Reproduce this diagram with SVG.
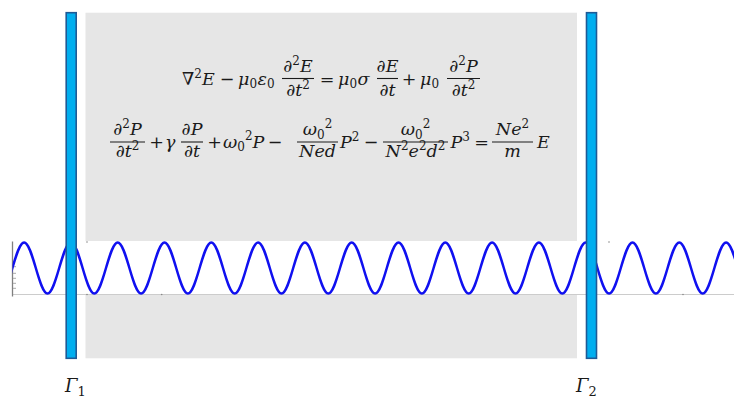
<svg xmlns="http://www.w3.org/2000/svg" width="734" height="399" viewBox="0 0 734 399">
<style>
.m{font-family:"DejaVu Serif","Liberation Serif",serif;font-size:17.5px;font-style:italic;fill:#1a1a1a}
.u{font-style:normal}
.s{font-size:12px;font-style:normal}
.fb{stroke:#1a1a1a;stroke-width:1.1}
.bar{fill:#00AEEF;stroke:#1E5A96;stroke-width:1.6}
.lbl{font-family:"DejaVu Serif","Liberation Serif",serif;font-size:18px;font-style:italic;fill:#1a1a1a}
.tick{stroke:#aaaaaa;stroke-width:1}
</style>
<defs>
<clipPath id="plotclip"><rect x="12.5" y="230" width="722" height="80"/></clipPath>
</defs>
<rect width="734" height="399" fill="#ffffff"/>
<g id="region">
<rect x="85.5" y="12.7" width="491.5" height="345.6" fill="#E6E6E6"/>
</g>
<g id="plot">
<rect x="0" y="241" width="734" height="54" fill="#ffffff"/>
<line x1="12.5" y1="294.5" x2="734" y2="294.5" stroke="#cccccc" stroke-width="1"/>
<line x1="12.5" y1="241.5" x2="12.5" y2="296.5" stroke="#808080" stroke-width="1.3"/>
<line class="tick" x1="13" y1="266.7" x2="16" y2="266.7"/>
<line class="tick" x1="13" y1="273.3" x2="16" y2="273.3"/>
<line class="tick" x1="13" y1="278.3" x2="16" y2="278.3"/>
<line class="tick" x1="13" y1="283.3" x2="16" y2="283.3"/>
<line class="tick" x1="13" y1="288.3" x2="16" y2="288.3"/>
<circle cx="87" cy="242" r="0.8" fill="#888"/>
<circle cx="87" cy="294.5" r="0.8" fill="#888"/>
<circle cx="161.7" cy="294.5" r="0.8" fill="#888"/>
<circle cx="609" cy="242" r="0.8" fill="#888"/>
<circle cx="683" cy="294.5" r="0.8" fill="#888"/>
<path id="wave" clip-path="url(#plotclip)" fill="none" stroke="#1010F0" stroke-width="2.5" d="M -22.7 242.5 c 8.5 0 14.9 51 23.4 51 s 14.9 -51 23.4 -51 s 14.9 51 23.4 51 s 14.9 -51 23.4 -51 s 14.9 51 23.4 51 s 14.9 -51 23.4 -51 s 14.9 51 23.4 51 s 14.9 -51 23.4 -51 s 14.9 51 23.4 51 s 14.9 -51 23.4 -51 s 14.9 51 23.4 51 s 14.9 -51 23.4 -51 s 14.9 51 23.4 51 s 14.9 -51 23.4 -51 s 14.9 51 23.4 51 s 14.9 -51 23.4 -51 s 14.9 51 23.4 51 s 14.9 -51 23.4 -51 s 14.9 51 23.4 51 s 14.9 -51 23.4 -51 s 14.9 51 23.4 51 s 14.9 -51 23.4 -51 s 14.9 51 23.4 51 s 14.9 -51 23.4 -51 s 14.9 51 23.4 51 s 14.9 -51 23.4 -51 s 14.9 51 23.4 51 s 14.9 -51 23.4 -51 s 14.9 51 23.4 51 s 14.9 -51 23.4 -51 s 14.9 51 23.4 51 s 14.9 -51 23.4 -51 s 14.9 51 23.4 51 s 14.9 -51 23.4 -51"/>
</g>
<g id="boundary1">
<rect class="bar" x="66.2" y="12.7" width="10" height="345.6"/>
<text class="lbl" x="65" y="392">Γ<tspan class="u" font-size="13" dy="4">1</tspan></text>
</g>
<g id="boundary2">
<rect class="bar" x="586.5" y="12.7" width="10" height="345.6"/>
<text class="lbl" x="576" y="392">Γ<tspan class="u" font-size="13" dy="4">2</tspan></text>
</g>
<g id="equation1" class="m">
<text x="182" y="84.5"><tspan class="u">∇</tspan><tspan class="s" dy="-7">2</tspan><tspan dy="7">E</tspan></text>
<text class="u" x="227" y="84.5" text-anchor="middle">−</text>
<text x="238" y="84.5">μ<tspan class="s" dy="3.5">0</tspan><tspan dy="-3.5" dx="0.5">ε</tspan><tspan class="s" dy="3.5">0</tspan></text>
<text x="298" y="71.5" text-anchor="middle">∂<tspan class="s" dy="-7">2</tspan><tspan dy="7">E</tspan></text>
<line class="fb" x1="282" y1="78.5" x2="314" y2="78.5"/>
<text x="298" y="95.5" text-anchor="middle">∂t<tspan class="s" dy="-7">2</tspan></text>
<text class="u" x="327" y="84.5" text-anchor="middle">=</text>
<text x="338" y="84.5">μ<tspan class="s" dy="3.5">0</tspan><tspan dy="-3.5" dx="0.5">σ</tspan></text>
<text x="387.5" y="71.5" text-anchor="middle">∂E</text>
<line class="fb" x1="377" y1="78.5" x2="398" y2="78.5"/>
<text x="387.5" y="95.5" text-anchor="middle">∂t</text>
<text class="u" x="409" y="84.5" text-anchor="middle">+</text>
<text x="420" y="84.5">μ<tspan class="s" dy="3.5">0</tspan></text>
<text x="463.5" y="71.5" text-anchor="middle">∂<tspan class="s" dy="-7">2</tspan><tspan dy="7">P</tspan></text>
<line class="fb" x1="447" y1="78.5" x2="480" y2="78.5"/>
<text x="463.5" y="95.5" text-anchor="middle">∂t<tspan class="s" dy="-7">2</tspan></text>
</g>
<g id="equation2" class="m">
<text x="127.5" y="135" text-anchor="middle">∂<tspan class="s" dy="-7">2</tspan><tspan dy="7">P</tspan></text>
<line class="fb" x1="110" y1="142" x2="145" y2="142"/>
<text x="127.5" y="157" text-anchor="middle">∂t<tspan class="s" dy="-7">2</tspan></text>
<text class="u" x="156.7" y="147.5" text-anchor="middle">+</text>
<text x="165" y="147.5">γ</text>
<text x="192" y="135" text-anchor="middle">∂P</text>
<line class="fb" x1="181" y1="142" x2="203" y2="142"/>
<text x="192" y="157" text-anchor="middle">∂t</text>
<text class="u" x="214.5" y="147.5" text-anchor="middle">+</text>
<text x="223" y="147.5">ω<tspan class="s" dy="3.5">0</tspan><tspan class="s" dy="-11">2</tspan><tspan dy="7.5">P</tspan></text>
<text class="u" x="275" y="147.5" text-anchor="middle">−</text>
<text x="317.5" y="135" text-anchor="middle">ω<tspan class="s" dy="3.5">0</tspan><tspan class="s" dy="-11">2</tspan></text>
<line class="fb" x1="297" y1="142" x2="338" y2="142"/>
<text x="317.5" y="157" text-anchor="middle">Ned</text>
<text x="340" y="147.5">P<tspan class="s" dy="-7">2</tspan></text>
<text class="u" x="371" y="147.5" text-anchor="middle">−</text>
<text x="415.5" y="135" text-anchor="middle">ω<tspan class="s" dy="3.5">0</tspan><tspan class="s" dy="-11">2</tspan></text>
<line class="fb" x1="383" y1="142" x2="448" y2="142"/>
<text x="415.5" y="157" text-anchor="middle">N<tspan class="s" dy="-7">2</tspan><tspan dy="7">e</tspan><tspan class="s" dy="-7">2</tspan><tspan dy="7">d</tspan><tspan class="s" dy="-7">2</tspan></text>
<text x="450.5" y="147.5">P<tspan class="s" dy="-7">3</tspan></text>
<text class="u" x="481.5" y="147.5" text-anchor="middle">=</text>
<text x="512.5" y="135" text-anchor="middle">Ne<tspan class="s" dy="-7">2</tspan></text>
<line class="fb" x1="492" y1="142" x2="533" y2="142"/>
<text x="512.5" y="157" text-anchor="middle">m</text>
<text x="537" y="147.5">E</text>
</g>
</svg>
